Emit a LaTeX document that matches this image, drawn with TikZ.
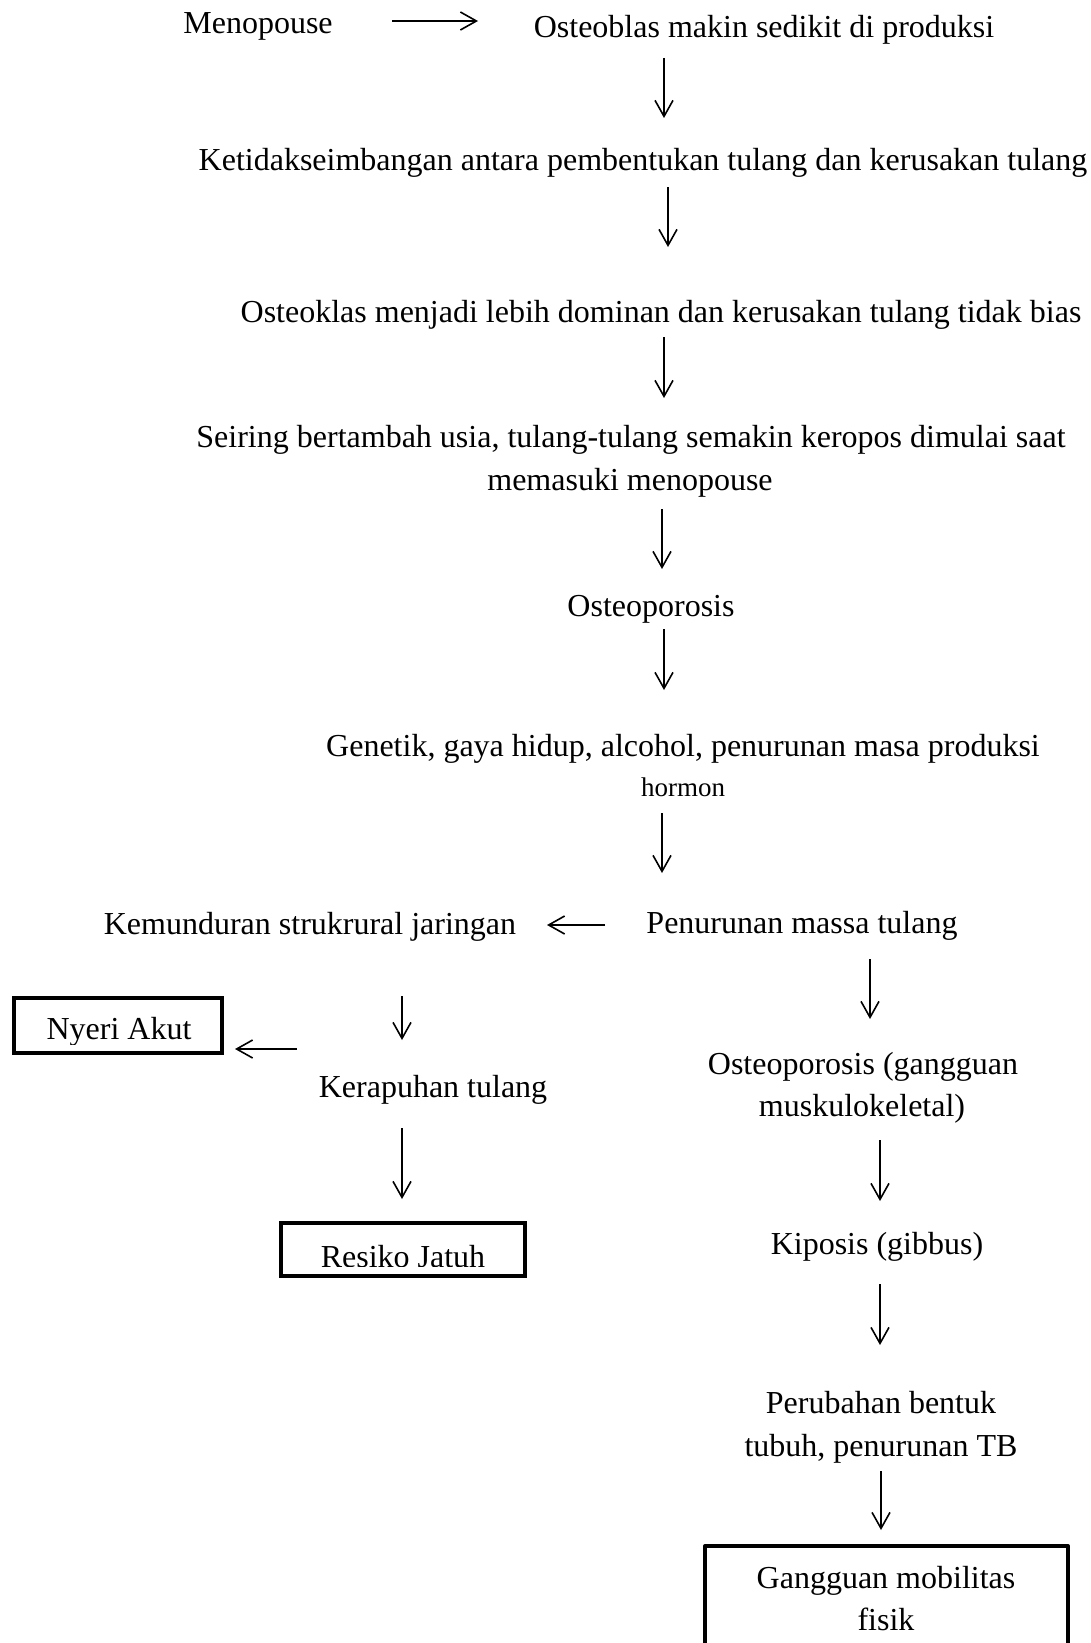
\documentclass[tikz,border=0pt]{standalone}
\usepackage{fontspec}
\setmainfont{Liberation Serif}
\usetikzlibrary{arrows.meta}
\begin{document}
\begin{tikzpicture}[x=1pt,y=-1pt,
  txt/.style={anchor=base,inner sep=0pt,font=\fontsize{32}{42}\selectfont},
  small/.style={anchor=base,inner sep=0pt,font=\fontsize{27}{32}\selectfont},
  arr/.style={line width=1.6pt,-{Straight Barb[length=16pt,width=18pt,line width=1.6pt]}},
  thickbox/.style={draw,line width=4pt,inner sep=0pt}]
\useasboundingbox (0,0) rectangle (1091,1643);
% text nodes
\node[txt] (meno) at (258,34) {Menopouse};
\node[txt] (osteob) at (764,38) {Osteoblas makin sedikit di produksi};
\node[txt] (ketid) at (643,170) {Ketidakseimbangan antara pembentukan tulang dan kerusakan tulang};
\node[txt] (osteok) at (661,322) {Osteoklas menjadi lebih dominan dan kerusakan tulang tidak bias};
\node[txt] (seir1) at (631,447) {Seiring bertambah usia, tulang-tulang semakin keropos dimulai saat};
\node[txt] (seir2) at (630,490) {memasuki menopouse};
\node[txt] (osteop) at (651,616) {Osteoporosis};
\node[txt] (gen1) at (683,756) {Genetik, gaya hidup, alcohol, penurunan masa produksi};
\node[small] (gen2) at (683,796) {hormon};
\node[txt] (penur) at (802,933) {Penurunan massa tulang};
\node[txt] (kemun) at (310,934) {Kemunduran strukrural jaringan};
\node[txt] (kerap) at (433,1097) {Kerapuhan tulang};
\node[txt] (op1) at (863,1074) {Osteoporosis (gangguan};
\node[txt] (op2) at (862,1116) {muskulokeletal)};
\node[txt] (kipo) at (877,1254) {Kiposis (gibbus)};
\node[txt] (perub1) at (881,1413) {Perubahan bentuk};
\node[txt] (perub2) at (881,1456) {tubuh, penurunan TB};
\node[txt] (gang1) at (886,1588) {Gangguan mobilitas};
\node[txt] (gang2) at (886,1630) {fisik};
% boxes
\node[thickbox,minimum width=208pt,minimum height=55pt] (nyeri) at (118,1025) {};
\begin{scope}
  \clip (16,999) rectangle (220,1044);
  \node[txt] (nyeriT) at (119,1039) {Nyeri Akut};
\end{scope}
\node[thickbox,minimum width=244pt,minimum height=53pt] (resiko) at (403,1249.5) {};
\begin{scope}
  \clip (283,1225) rectangle (523,1266);
  \node[txt] (resikoT) at (403,1267) {Resiko Jatuh};
\end{scope}
\coordinate (gbl) at (705,1650);
\coordinate (gtl) at (705,1546);
\coordinate (gtr) at (1068,1546);
\coordinate (gbr) at (1068,1650);
\draw[line width=4pt,line join=round] (gbl) -- (gtl) -- (gtr) -- (gbr);
% arrow end points
\coordinate (a1s) at (392,21);  \coordinate (a1e) at (478,21);
\coordinate (a2s) at (664,58);  \coordinate (a2e) at (664,118);
\coordinate (a3s) at (668,187); \coordinate (a3e) at (668,247);
\coordinate (a4s) at (664,337); \coordinate (a4e) at (664,398);
\coordinate (a5s) at (662,509); \coordinate (a5e) at (662,569);
\coordinate (a6s) at (664,629); \coordinate (a6e) at (664,690);
\coordinate (a7s) at (662,813); \coordinate (a7e) at (662,873);
\coordinate (a8s) at (605,925); \coordinate (a8e) at (547,925);
\coordinate (a9s) at (402,996); \coordinate (a9e) at (402,1040);
\coordinate (a10s) at (297,1049); \coordinate (a10e) at (235,1049);
\coordinate (a11s) at (402,1128); \coordinate (a11e) at (402,1199);
\coordinate (a12s) at (870,959); \coordinate (a12e) at (870,1019);
\coordinate (a13s) at (880,1140); \coordinate (a13e) at (880,1201);
\coordinate (a14s) at (880,1284); \coordinate (a14e) at (880,1345);
\coordinate (a15s) at (881,1471); \coordinate (a15e) at (881,1530);
\foreach \i in {1,...,15} {\draw[arr] (a\i s) -- (a\i e);}
\end{tikzpicture}
\end{document}
